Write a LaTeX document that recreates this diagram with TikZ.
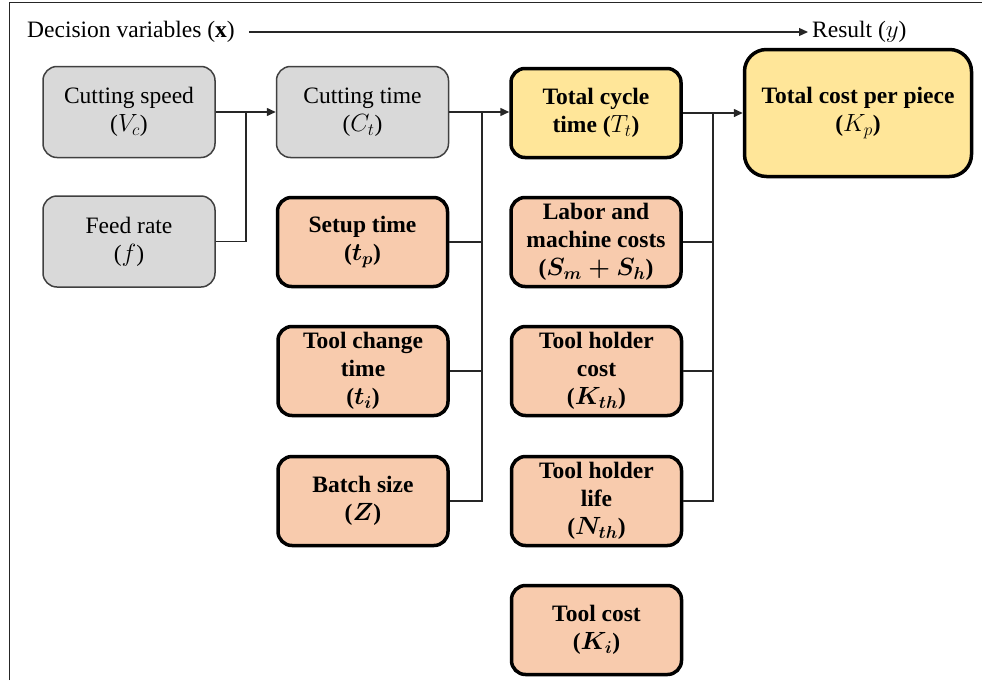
\documentclass[tikz,border=0pt]{standalone}
\usepackage{amsmath}
\usepackage{fontspec}
\setmainfont{Liberation Serif}
\usetikzlibrary{arrows.meta}

\definecolor{boxgrey}{HTML}{D9D9D9}
\definecolor{boxorange}{HTML}{F8CBAD}
\definecolor{boxyellow}{HTML}{FFE699}
\definecolor{wire}{HTML}{262626}

\begin{document}
\begin{tikzpicture}[x=1pt,y=-1pt,
  every node/.style={font=\fontsize{23.5}{28}\selectfont, align=center, inner sep=0pt},
  box/.style={rectangle, rounded corners=14pt, minimum width=172pt, minimum height=91pt},
  greybox/.style={box, draw=black!75, line width=1.5pt, fill=boxgrey},
  keybox/.style={box, draw=black, line width=3.5pt, minimum width=170pt, minimum height=89pt,
    font=\fontsize{23.5}{28}\selectfont\bfseries},
  orangebox/.style={keybox, fill=boxorange},
  yellowbox/.style={keybox, fill=boxyellow},
  wireline/.style={draw=wire, line width=1.5pt},
  arrowline/.style={wireline, -{Triangle[length=9pt,width=8pt]}}
]
\useasboundingbox (0,0) rectangle (982,680);

% open frame (left and top edges)
\draw[line width=1.5pt, black!85] (9.5,680) -- (9.5,2.5) -- (982,2.5);

% header
\node[anchor=west] (dv) at (27,32) {Decision variables ($\mathbf{x}$)};
\node[anchor=west] (res) at (812,32) {Result ($y$)};
\draw[arrowline, line width=1.2pt] (dv.east) ++(14,0) coordinate (hstart) -- ([xshift=-4pt]res.west |- hstart);

% decision variables
\node[greybox] (cs) at (129,112) {Cutting speed\\($V_c$)};
\node[greybox] (fr) at (129,241.5) {Feed rate\\($f$)};

% second column
\node[greybox] (ct) at (362.5,112) {Cutting time\\($C_t$)};
\node[orangebox] (st) at (362.5,242) {Setup time\\($\boldsymbol{t_p}$)};
\node[orangebox] (tc) at (363,371) {Tool change\\time\\($\boldsymbol{t_i}$)};
\node[orangebox] (bs) at (363,501) {Batch size\\($\boldsymbol{Z}$)};

% third column
\node[yellowbox] (tt) at (596,113) {Total cycle\\time ($T_t$)};
\node[orangebox] (lm) at (596,242) {Labor and\\machine costs\\($\boldsymbol{S_m+S_h}$)};
\node[orangebox] (thc) at (596.5,371) {Tool holder\\cost\\($\boldsymbol{K_{th}}$)};
\node[orangebox] (thl) at (596.5,501) {Tool holder\\life\\($\boldsymbol{N_{th}}$)};
\node[orangebox] (tk) at (596.5,630) {Tool cost\\($\boldsymbol{K_i}$)};

% result
\node[yellowbox, rounded corners=22pt, minimum width=227pt, minimum height=127pt] (kp) at (858,113)
  {Total cost per piece\\($K_p$)};

% junction points
\coordinate (j1) at (246,112);
\coordinate (j2) at (482,112);
\coordinate (j3) at (713,113);

% cutting time inputs
\draw[arrowline] (cs.east |- j1) -- (ct.west |- j1);
\draw[wireline] (fr.east) -- (fr.east -| j1) -- (j1);

% total cycle time inputs
\draw[arrowline] (ct.east |- j2) -- (tt.west |- j2);
\draw[wireline] (j2) -- (j2 |- bs.east) -- (bs.east);
\draw[wireline] (st.east) -- (st.east -| j2);
\draw[wireline] (tc.east) -- (tc.east -| j2);

% total cost inputs
\draw[arrowline] (tt.east |- j3) -- (kp.west |- j3);
\draw[wireline] (j3) -- (j3 |- thl.east) -- (thl.east);
\draw[wireline] (lm.east) -- (lm.east -| j3);
\draw[wireline] (thc.east) -- (thc.east -| j3);
\end{tikzpicture}
\end{document}
